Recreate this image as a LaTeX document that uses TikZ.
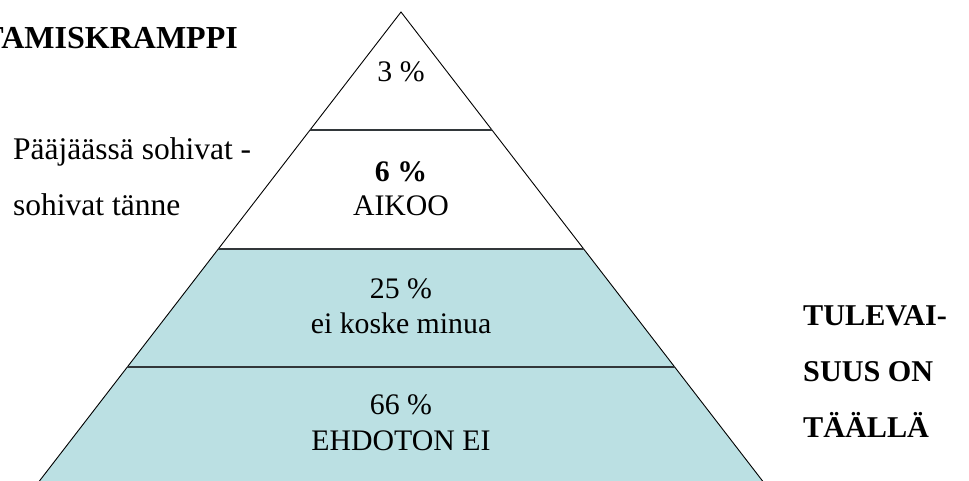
\documentclass[tikz,border=0pt]{standalone}
\usepackage{fontspec}
\setmainfont{Liberation Serif}
\definecolor{pyrblue}{RGB}{187,224,227}
\definecolor{sepgray}{RGB}{50,55,58}
\begin{document}
\begin{tikzpicture}[x=1pt,y=-1pt,
  side/.style={draw=black,line width=0.9pt},
  sep/.style={draw=sepgray,line width=2.2pt},
  ctr/.style={inner sep=0pt,anchor=base,font=\fontsize{29.8}{36}\selectfont},
  lbl/.style={inner sep=0pt,anchor=base west,font=\fontsize{31.5}{36}\selectfont},
  blbl/.style={inner sep=0pt,anchor=base west,font=\fontsize{30.2}{36}\selectfont\bfseries}]
\useasboundingbox (0,0) rectangle (969,481);
\clip (0,0) rectangle (969,481);
\fill[white] (0,0) rectangle (969,481);
% pyramid coordinates
\coordinate (apex) at (401,12);
\coordinate (l1) at (310,130);   \coordinate (r1) at (492,130);
\coordinate (l2) at (218.3,249); \coordinate (r2) at (583.7,249);
\coordinate (l3) at (127.4,367); \coordinate (r3) at (674.6,367);
\coordinate (l4) at (32.5,490);  \coordinate (r4) at (769.5,490);
\fill[pyrblue] (l2) -- (r2) -- (r4) -- (l4) -- cycle;
\draw[side] (l4) -- (apex) -- (r4);
\draw[sep] (l1) -- (r1);
\draw[sep] (l2) -- (r2);
\draw[sep] (l3) -- (r3);
% centre texts
\node[ctr] (p3) at (401,82) {3 \%};
\node[ctr,font=\fontsize{29.8}{36}\selectfont\bfseries] (p6) at (401,182) {6 \%};
\node[ctr] (aikoo) at (401,216) {AIKOO};
\node[ctr] (p25) at (401,298) {25 \%};
\node[ctr] (eikoske) at (401,333) {ei koske minua};
\node[ctr] (p66) at (401,414) {66 \%};
\node[ctr] (ehdoton) at (401,450) {EHDOTON EI};
% side texts
\node[blbl,anchor=base east,font=\fontsize{32}{36}\selectfont\bfseries] (tamis) at (238,49) {TAMISKRAMPPI};
\node[lbl] (paa1) at (13,160) {Pääjäässä sohivat -};
\node[lbl] (paa2) at (13,215) {sohivat tänne};
\node[blbl] (tul1) at (803,325) {TULEVAI-};
\node[blbl] (tul2) at (803,381) {SUUS ON};
\node[blbl] (tul3) at (803,437) {TÄÄLLÄ};
\end{tikzpicture}
\end{document}
